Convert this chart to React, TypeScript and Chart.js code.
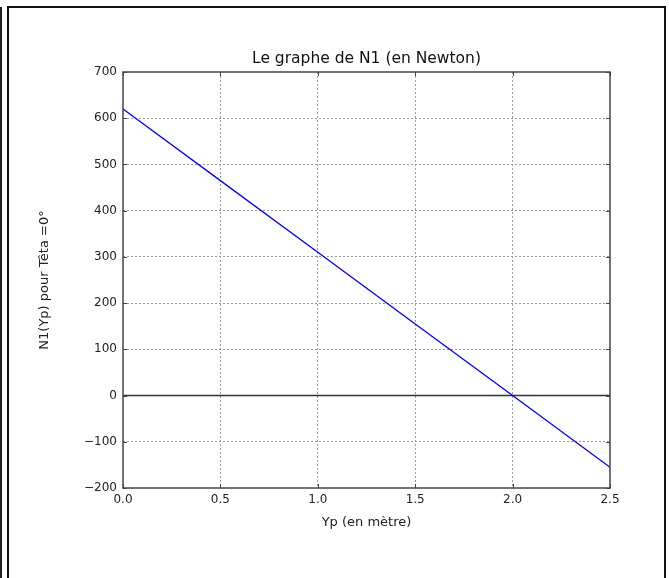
import React, { useEffect, useRef } from "react";
import { Chart, registerables } from "chart.js";

Chart.register(...registerables);

const xValues: number[] = [0.0, 0.5, 1.0, 1.5, 2.0, 2.5];
const n1Values: number[] = [620, 465, 310, 155, 0, -155];
const zeroLine: number[] = [0, 0, 0, 0, 0, 0];
const xTicks: number[] = [0.0, 0.5, 1.0, 1.5, 2.0, 2.5];
const yTicks: number[] = [-200, -100, 0, 100, 200, 300, 400, 500, 600, 700];
const chartTitle = "Le graphe de N1 (en Newton)";

const FONT = "'DejaVu Sans', sans-serif";

const titlePlugin = {
  id: "centerTitle",
  afterDraw(chart: any) {
    const { ctx, chartArea } = chart;
    ctx.save();
    ctx.fillStyle = "#111";
    ctx.font = `15.5px ${FONT}`;
    ctx.textAlign = "center";
    ctx.textBaseline = "middle";
    ctx.fillText(chartTitle, (chartArea.left + chartArea.right) / 2, chartArea.top - 13);
    ctx.restore();
  },
};

const innerTicks = {
  id: "innerTicks",
  afterDatasetsDraw(chart: any) {
    const { ctx, chartArea } = chart;
    const xs = chart.scales.x;
    const ys = chart.scales.y;
    ctx.save();
    ctx.strokeStyle = "#444";
    ctx.lineWidth = 1;
    const L = 4;
    xTicks.forEach((v) => {
      const px = Math.round(xs.getPixelForValue(v)) + 0.5;
      ctx.beginPath();
      ctx.moveTo(px, chartArea.bottom);
      ctx.lineTo(px, chartArea.bottom - L);
      ctx.moveTo(px, chartArea.top);
      ctx.lineTo(px, chartArea.top + L);
      ctx.stroke();
    });
    yTicks.forEach((v) => {
      const py = Math.round(ys.getPixelForValue(v)) + 0.5;
      ctx.beginPath();
      ctx.moveTo(chartArea.left, py);
      ctx.lineTo(chartArea.left + L, py);
      ctx.moveTo(chartArea.right, py);
      ctx.lineTo(chartArea.right - L, py);
      ctx.stroke();
    });
    ctx.strokeStyle = "#444";
    ctx.lineWidth = 1.5;
    ctx.strokeRect(chartArea.left, chartArea.top, chartArea.right - chartArea.left, chartArea.bottom - chartArea.top);
    ctx.restore();
  },
};

export default function App() {
  const ref = useRef<HTMLCanvasElement | null>(null);
  useEffect(() => {
    if (!ref.current) return;
    const chart = new Chart(ref.current, {
      type: "line",
      data: {
        labels: xValues,
        datasets: [
          {
            data: zeroLine.map((y, i) => ({ x: xValues[i], y })),
            borderColor: "#333",
            borderWidth: 1.5,
            pointRadius: 0,
            order: 2,
          },
          {
            data: n1Values.map((y, i) => ({ x: xValues[i], y })),
            borderColor: "#0000ff",
            borderWidth: 1.3,
            pointRadius: 0,
            order: 1,
          },
        ],
      },
      options: {
        responsive: false,
        animation: false,
        layout: { padding: { left: 0, right: 59, top: 72, bottom: 0 } },
        plugins: {
          legend: { display: false },
          tooltip: { enabled: false },
          title: { display: false },
        },
        scales: {
          x: {
            type: "linear",
            min: 0,
            max: 2.5,
            afterBuildTicks: (s: any) => {
              s.ticks = xTicks.map((v) => ({ value: v }));
            },
            afterFit: (s: any) => {
              s.height = 90;
            },
            border: { display: false, dash: [2, 2] },
            grid: {
              drawTicks: false,
              color: (c: any) =>
                c.tick && (c.tick.value === 0 || c.tick.value === 2.5) ? "rgba(0,0,0,0)" : "#999",
              lineWidth: 1,
            },
            ticks: {
              color: "#222",
              font: { family: FONT, size: 12 },
              padding: 5,
              maxRotation: 0,
              callback: (v: any) => Number(v).toFixed(1),
            },
            title: {
              display: true,
              text: "Yp (en mètre)",
              color: "#222",
              font: { family: FONT, size: 13 },
              padding: { top: 0, bottom: 48 },
            },
          },
          y: {
            type: "linear",
            min: -200,
            max: 700,
            afterBuildTicks: (s: any) => {
              s.ticks = yTicks.map((v) => ({ value: v }));
            },
            afterFit: (s: any) => {
              s.width = 123;
            },
            border: { display: false, dash: [2, 2] },
            grid: {
              drawTicks: false,
              color: (c: any) =>
                c.tick && (c.tick.value === -200 || c.tick.value === 700 || c.tick.value === 0)
                  ? "rgba(0,0,0,0)"
                  : "#999",
              lineWidth: 1,
            },
            ticks: {
              color: "#222",
              font: { family: FONT, size: 12 },
              padding: 6,
              callback: (v: any) => (Number(v) < 0 ? "\u2212" + Math.abs(Number(v)) : String(v)),
            },
            title: {
              display: true,
              text: "N1(Yp) pour Têta =0°",
              color: "#222",
              font: { family: FONT, size: 13 },
              padding: { top: 36.5, bottom: 0 },
            },
          },
        },
      },
      plugins: [innerTicks, titlePlugin],
    } as any);
    return () => chart.destroy();
  }, []);

  return (
    <div style={{ position: "absolute", left: 0, top: 0, width: 669, height: 578, background: "#fff", overflow: "hidden" }}>
      <canvas ref={ref} width={669} height={578} style={{ position: "absolute", left: 0, top: 0, width: 669, height: 578 }} />
      <div style={{ position: "absolute", left: 7, top: 6, width: 659, height: 600, borderLeft: "2px solid #111", borderTop: "2px solid #111", borderRight: "2px solid #111", boxSizing: "border-box" }} />
      <div style={{ position: "absolute", left: 0, top: 7, width: 2, height: 580, background: "#222" }} />
    </div>
  );
}
